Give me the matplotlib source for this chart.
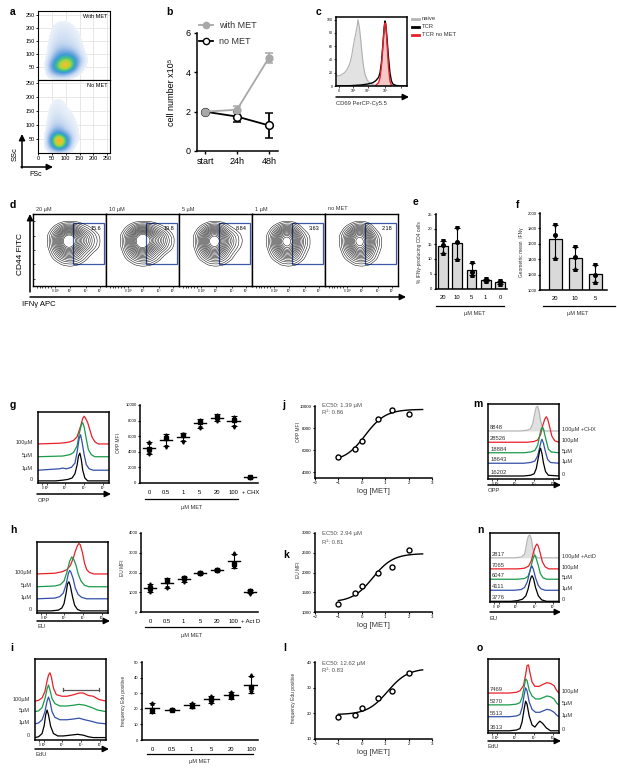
import numpy as np
import matplotlib
matplotlib.use('Agg')
import matplotlib.pyplot as plt
import matplotlib.tri as mtri
from matplotlib.colors import LinearSegmentedColormap
from matplotlib.patches import Rectangle

plt.rcParams['font.family'] = ['Liberation Sans', 'DejaVu Sans']

# ---------------- data ----------------
# a: FSc/SSc density (rows SSc 0..250 step 25, cols FSc 0..250 step 25)
a_with_met = np.array([
    [0, 0, 0, 0, 0, 0, 0, 0, 0, 0, 0],
    [0, 0, 1.5, 2.5, 2.5, 1, 0.3, 0, 0, 0, 0],
    [0, 0, 3, 6, 8, 5, 1, 0.2, 0, 0, 0],
    [0, 0, 2, 4.5, 6, 5, 2, 0.3, 0, 0, 0],
    [0, 0, 1, 2.5, 3, 2.5, 1, 0.2, 0, 0, 0],
    [0, 0, 0.8, 1.5, 1.5, 1.2, 0.6, 0.1, 0, 0, 0],
    [0, 0, 0.6, 1, 1, 0.8, 0.5, 0, 0, 0, 0],
    [0, 0, 0.4, 0.8, 0.8, 0.6, 0.3, 0, 0, 0, 0],
    [0, 0, 0.3, 0.6, 0.6, 0.4, 0.2, 0, 0, 0, 0],
    [0, 0, 0.1, 0.3, 0.3, 0.2, 0, 0, 0, 0, 0],
    [0, 0, 0, 0, 0, 0, 0, 0, 0, 0, 0]])
a_no_met = np.array([
    [0, 0, 0, 0, 0, 0, 0, 0, 0, 0, 0],
    [0, 0, 3, 7, 4, 0.5, 0, 0, 0, 0, 0],
    [0, 0, 4, 9, 5, 1, 0.3, 0, 0, 0, 0],
    [0, 0, 2, 3, 1.5, 0.8, 0.2, 0, 0, 0, 0],
    [0, 0, 1.2, 1.5, 1, 0.6, 0.2, 0, 0, 0, 0],
    [0, 0, 0.8, 1, 0.6, 0.4, 0.1, 0, 0, 0, 0],
    [0, 0, 0.6, 0.7, 0.4, 0.3, 0, 0, 0, 0, 0],
    [0, 0, 0.4, 0.5, 0.3, 0.1, 0, 0, 0, 0, 0],
    [0, 0, 0.2, 0.3, 0.2, 0, 0, 0, 0, 0, 0],
    [0, 0, 0.1, 0.1, 0, 0, 0, 0, 0, 0, 0],
    [0, 0, 0, 0, 0, 0, 0, 0, 0, 0, 0]])

# b: cell number x10^5
b_times = ['start', '24h', '48h']
b_with_met = [2.0, 2.1, 4.75]
b_with_met_err = [0.0, 0.18, 0.25]
b_no_met = [2.0, 1.75, 1.3]
b_no_met_err = [0.0, 0.25, 0.62]

# c: CD69 histograms (x as axis fraction, y in % of max)
c_naive_x = [0, .03, .06, .09, .12, .15, .18, .2, .22, .24, .26, .28, .3, .31, .33, .35, .37, .39, .41, .44, .47, .5, .55, .6, 1]
c_naive_y = [17, 15, 16, 18, 20, 24, 30, 36, 45, 58, 70, 80, 92, 100, 88, 68, 45, 28, 17, 9, 5, 3, 1, 0, 0]
c_tcr_x = [0, .2, .35, .45, .52, .56, .6, .62, .64, .66, .68, .69, .7, .72, .74, .76, .78, .8, .84, .9, 1]
c_tcr_y = [0, .5, 1.5, 3, 5, 8, 13, 20, 35, 62, 90, 98, 94, 70, 42, 20, 8, 3, 1, 0, 0]
c_red_x = [.56, .6, .62, .64, .66, .68, .69, .7, .71, .72, .74, .76, .78]
c_red_y = [1, 5, 12, 30, 60, 88, 95, 92, 80, 62, 28, 8, 1]

# d: CD44 vs IFNg contour plots
d_titles = ['20 \u00b5M', '10 \u00b5M', '5 \u00b5M', '1 \u00b5M', 'no MET']
d_gate_pct = [15.6, 19.8, 8.84, 3.63, 2.18]
d_base = np.array([
    [0, 0, 0, 0, 0, 0, 0, 0, 0],
    [0, 0, 0, 0, 0, 0, 0, 0, 0],
    [0, 0, 0, .3, .6, .3, 0, 0, 0],
    [0, 0, .6, 2.2, 3.2, 2, .4, 0, 0],
    [0, 0, 1.6, 5.5, 7.5, 4, .8, 0, 0],
    [0, .2, 2.2, 7.5, 9.5, 5, .9, 0, 0],
    [0, .1, 1.4, 5, 6.5, 3, .4, 0, 0],
    [0, 0, .2, 1, 1.5, .6, 0, 0, 0],
    [0, 0, 0, 0, 0, 0, 0, 0, 0]])
d_tail = np.array([
    [0, 0, 0, 0, 0, 0, 0, 0, 0],
    [0, 0, 0, 0, 0, 0, 0, 0, 0],
    [0, 0, 0, 0, 0, 0, 0, 0, 0],
    [0, 0, 0, 0, 0, .4, .4, 0, 0],
    [0, 0, 0, 0, .3, 1.2, 1.6, .8, 0],
    [0, 0, 0, 0, 1.2, 2.6, 3, 1.4, 0],
    [0, 0, 0, 0, .8, 2, 2, .8, 0],
    [0, 0, 0, 0, 0, .5, .4, 0, 0],
    [0, 0, 0, 0, 0, 0, 0, 0, 0]])

# e: % IFNg-producing CD4 cells
e_labels = ['20', '10', '5', '1', '0']
e_pts = [[16, 14.5, 12], [20.5, 15.5, 10], [8.8, 5.5, 4.5], [3.4, 3.0, 2.6], [2.5, 2.2, 1.8]]
# f: geometric mean IFNg
f_labels = ['20', '10', '5']
f_pts = [[1850, 1720, 1410], [1555, 1430, 1270], [1320, 1200, 1110]]

# g/h/i: dot plots
g_labels = ['0', '0.5', '1', '5', '20', '100', '+ CHX']
g_pts = [[5300, 4400, 3700], [6100, 5800, 4600], [6300, 6100, 5300], [8100, 7800, 7000],
         [8700, 8500, 7900], [8500, 8100, 7200], [820, 760, 700]]
h_labels = ['0', '0.5', '1', '5', '20', '100', '+ Act D']
h_pts = [[1400, 1200, 1000], [1650, 1550, 1200], [1750, 1700, 1500], [2020, 1980, 1940],
         [2200, 2150, 2100], [3000, 2450, 2300], [1100, 1050, 930]]
i_labels = ['0', '0.5', '1', '5', '20', '100']
i_pts = [[24, 19.5, 18], [20, 19.5, 19], [24, 22, 21], [28, 26, 24], [31, 28, 27], [41.5, 34, 31]]

# j/k/l: dose response (log uM)
log_met = [-1, -0.3, 0, 0.7, 1.3, 2]
j_vals = [5400, 6150, 6850, 8850, 9600, 9300]
k_vals = [1200, 1480, 1660, 2000, 2150, 2580]
l_vals = [18.7, 19.4, 22.2, 26, 28.7, 35.7]
j_fit = dict(bottom=5000, top=9700, ec50=1.39, r2=0.86)
k_fit = dict(bottom=1250, top=2480, ec50=2.94, r2=0.81)
l_fit = dict(bottom=19.5, top=37.5, ec50=12.62, r2=0.83)

# histogram panels: each curve = (x fraction list, height list), top curve first
hist_dose = ['100\u00b5M', '5\u00b5M', '1\u00b5M', '0']
g_curves = [
    ([0, .3, .4, .45, .5, .55, .6, .63, .65, .67, .7, .73, .76, .8, .85, 1],
     [0, .01, .02, .03, .05, .1, .25, .36, .39, .36, .3, .2, .1, .03, 0, 0]),
    ([0, .35, .45, .5, .55, .58, .61, .63, .65, .68, .71, .75, .8, 1],
     [0, .01, .03, .06, .15, .32, .45, .48, .42, .25, .1, .03, 0, 0]),
    ([0, .3, .35, .4, .47, .52, .55, .58, .6, .62, .65, .68, .72, .78, 1],
     [0, .02, .03, .02, .04, .1, .25, .45, .5, .4, .22, .08, .02, 0, 0]),
    ([0, .25, .35, .42, .48, .52, .55, .57, .59, .61, .63, .66, .7, 1],
     [0, 0, .01, .02, .04, .1, .22, .35, .39, .3, .15, .04, 0, 0])]
g_base = [0.55, 0.37, 0.18, 0.03]
h_curves = [
    ([0, .25, .35, .42, .47, .51, .54, .57, .59, .61, .64, .67, .7, .74, .8, 1],
     [0, .01, .03, .06, .12, .22, .32, .4, .43, .41, .3, .15, .06, .02, 0, 0]),
    ([0, .25, .33, .38, .42, .46, .49, .52, .55, .58, .62, .67, .73, 1],
     [0, .01, .03, .08, .2, .36, .42, .38, .3, .18, .08, .02, 0, 0]),
    ([0, .25, .32, .37, .41, .44, .46, .48, .51, .54, .58, .63, .7, 1],
     [0, .01, .03, .08, .2, .35, .4, .37, .28, .15, .06, .02, 0, 0]),
    ([0, .2, .3, .35, .38, .41, .43, .45, .47, .5, .53, .57, .62, 1],
     [0, 0, .01, .04, .1, .25, .38, .41, .35, .2, .08, .02, 0, 0])]
h_base = [0.55, 0.37, 0.2, 0.03]
i_curves = [
    ([0, .05, .1, .14, .17, .19, .21, .23, .26, .3, .38, .45, .55, .62, .68, .75, .82, .9, 1],
     [0, .01, .04, .12, .25, .32, .35, .3, .16, .08, .06, .06, .08, .1, .1, .07, .06, .02, 0]),
    ([0, .05, .1, .14, .17, .19, .21, .24, .28, .35, .45, .55, .62, .7, .8, .88, 1],
     [0, .01, .05, .16, .28, .33, .27, .16, .1, .07, .07, .08, .09, .08, .05, .02, 0]),
    ([0, .05, .1, .14, .17, .19, .21, .24, .28, .35, .45, .55, .62, .7, .8, .88, 1],
     [0, .01, .05, .15, .28, .33, .28, .15, .08, .05, .05, .06, .07, .05, .03, .01, 0]),
    ([0, .05, .1, .13, .15, .17, .19, .22, .26, .32, .4, .5, .6, .68, .75, .82, 1],
     [0, .01, .05, .15, .28, .34, .28, .14, .05, .02, .02, .03, .04, .03, .01, 0, 0])]
i_base = [0.48, 0.35, 0.2, 0.03]

m_labels = ['100\u00b5M +CHX', '100\u00b5M', '5\u00b5M', '1\u00b5M', '0']
m_mfi = [8848, 28526, 18884, 18643, 16202]
m_curves = [
    ([0, .45, .55, .6, .63, .66, .68, .7, .72, .74, .77, .8, 1],
     [0, 0, .01, .03, .1, .24, .32, .33, .26, .14, .04, 0, 0]),
    ([0, .55, .65, .7, .74, .77, .8, .82, .84, .87, .9, .94, 1],
     [0, 0, .01, .03, .1, .22, .31, .34, .31, .2, .08, .02, 0]),
    ([0, .5, .6, .66, .7, .73, .75, .77, .79, .82, .85, .89, 1],
     [0, 0, .01, .03, .1, .24, .32, .34, .28, .16, .05, .01, 0]),
    ([0, .5, .6, .66, .7, .73, .75, .76, .78, .81, .84, .88, 1],
     [0, 0, .01, .03, .1, .22, .3, .32, .27, .15, .05, .01, 0]),
    ([0, .5, .6, .65, .68, .71, .73, .74, .76, .78, .81, .85, 1],
     [0, 0, .01, .03, .1, .25, .35, .37, .3, .18, .06, .01, 0])]
m_base = [0.64, 0.49, 0.35, 0.21, 0.04]

n_labels = ['100\u00b5M +ActD', '100\u00b5M', '5\u00b5M', '1\u00b5M', '0']
n_mfi = [2817, 7065, 6047, 4111, 3776]
n_curves = [
    ([0, .35, .45, .5, .52, .54, .56, .58, .6, .62, .65, .69, 1],
     [0, 0, .01, .05, .14, .26, .32, .33, .27, .14, .04, 0, 0]),
    ([0, .4, .5, .56, .6, .63, .66, .68, .7, .73, .76, .8, .85, 1],
     [0, 0, .01, .04, .12, .24, .33, .36, .33, .22, .1, .03, 0, 0]),
    ([0, .4, .5, .55, .58, .61, .63, .65, .67, .7, .73, .77, .82, 1],
     [0, 0, .01, .04, .12, .25, .32, .35, .3, .2, .08, .02, 0, 0]),
    ([0, .35, .45, .5, .54, .57, .59, .61, .63, .66, .7, .74, .8, 1],
     [0, 0, .01, .04, .12, .24, .32, .35, .3, .18, .07, .02, 0, 0]),
    ([0, .3, .4, .47, .52, .55, .58, .6, .61, .63, .66, .7, .75, .82, 1],
     [0, 0, .01, .03, .08, .17, .3, .36, .37, .33, .2, .08, .02, 0, 0])]
n_base = [0.64, 0.48, 0.33, 0.17, 0.01]

o_labels = ['100\u00b5M', '5\u00b5M', '1\u00b5M', '0']
o_mfi = [7469, 5270, 5513, 3613]
o_curves = [
    ([0, .3, .4, .45, .5, .53, .55, .57, .59, .62, .66, .72, .78, .83, .88, .93, .97, 1],
     [0, 0, .01, .03, .1, .25, .37, .38, .28, .15, .09, .09, .12, .14, .13, .1, .03, 0]),
    ([0, .3, .4, .45, .48, .51, .53, .55, .58, .62, .67, .73, .78, .83, .88, .93, .97, 1],
     [0, 0, .01, .03, .1, .25, .35, .33, .2, .12, .08, .08, .1, .12, .11, .08, .02, 0]),
    ([0, .3, .4, .45, .48, .51, .53, .55, .58, .62, .67, .73, .78, .83, .88, .93, .97, 1],
     [0, 0, .01, .03, .12, .3, .39, .35, .2, .1, .06, .06, .08, .1, .09, .06, .02, 0]),
    ([0, .3, .4, .45, .48, .51, .53, .55, .58, .62, .66, .7, .73, .77, .82, .88, 1],
     [0, 0, .01, .03, .12, .3, .4, .36, .2, .08, .05, .1, .13, .1, .04, 0, 0])]
o_base = [0.54, 0.38, 0.22, 0.03]

four_colors = ['#e8202a', '#1a9a4a', '#3450a8', 'black']
five_colors = ['#b5b5b5', '#e8202a', '#1a9a4a', '#3450a8', 'black']

# ---------------- figure ----------------
W, H = 617, 768
fig = plt.figure(figsize=(W / 100, H / 100), dpi=100)


def px_axes(l, t, r, b):
    return fig.add_axes([l / W, 1 - b / H, (r - l) / W, (b - t) / H])


ov = fig.add_axes([0, 0, 1, 1], zorder=20)
ov.set_xlim(0, W)
ov.set_ylim(H, 0)
ov.axis('off')


def arrow(x1, y1, x2, y2):
    ov.annotate('', xy=(x2, y2), xytext=(x1, y1),
                arrowprops=dict(arrowstyle='-|>', lw=1.1, color='black',
                                mutation_scale=9, shrinkA=0, shrinkB=0))


for lab, x, y in [('a', 10, 12), ('b', 166, 12), ('c', 316, 12), ('d', 10, 205),
                  ('e', 413, 202), ('f', 516, 205), ('g', 10, 405), ('j', 282, 405),
                  ('m', 473, 404), ('h', 10, 530), ('k', 283, 555), ('n', 477, 530),
                  ('i', 10, 648), ('l', 283, 648), ('o', 477, 648)]:
    ov.text(x, y, lab, fontsize=7.5, fontweight='bold', va='center', ha='left')

# ---- a ----
a_cmap = LinearSegmentedColormap.from_list('flow', [
    (0.0, '#edf2fa'), (0.12, '#c2d6f0'), (0.26, '#7fade2'), (0.4, '#3d9ad6'),
    (0.54, '#3cbf8f'), (0.68, '#a8d540'), (0.82, '#f5bf2a'), (1.0, '#e8441c')])
a_cmap.set_under((1, 1, 1, 0))
for k, (grid, tag, top, bot) in enumerate([(a_with_met, 'With MET', 11, 80),
                                          (a_no_met, 'No MET', 80, 153)]):
    ax = px_axes(38, top, 110, bot)
    for v in [50, 100, 150, 200, 250]:
        ax.axhline(v, color='#e4e4e4', lw=0.6, zorder=0)
        ax.axvline(v, color='#e4e4e4', lw=0.6, zorder=0)
    ax.imshow(grid, origin='lower', extent=(-12.5, 262.5, -12.5, 262.5), cmap=a_cmap,
              vmin=0.3, vmax=7.8, interpolation='bicubic', aspect='auto', zorder=1)
    ax.set_xlim(0, 260)
    ax.set_ylim(0, 265 if k == 0 else 262)
    ax.set_yticks([50, 100, 150, 200, 250])
    ax.set_xticks([0, 50, 100, 150, 200, 250])
    ax.tick_params(labelsize=4, length=1.5, width=0.6, pad=1)
    if k == 0:
        ax.set_xticklabels([])
    for s in ax.spines.values():
        s.set_linewidth(0.8)
    ax.text(0.96, 0.92, tag, transform=ax.transAxes, fontsize=4, ha='right', va='center')
arrow(22, 168, 22, 134)
arrow(21, 167, 53, 167)
ov.text(15, 154, 'SSc', fontsize=5.5, rotation=90, va='center', ha='center')
ov.text(29, 174, 'FSc', fontsize=5, va='center', ha='left')

# ---- b ----
ax = px_axes(197, 33, 278, 151)
xb = np.arange(len(b_times))
ax.errorbar(xb, b_no_met, yerr=b_no_met_err, color='black', lw=1.3, capsize=3,
            capthick=1.1, marker='o', ms=5.5, mfc='white', mec='black', mew=1.1)
ax.errorbar(xb, b_with_met, yerr=b_with_met_err, color='#a8a8a8', lw=1.3, capsize=3,
            capthick=1.1, marker='o', ms=5, mfc='#a8a8a8', mec='#a8a8a8')
ax.set_xlim(-0.25, 2.28)
ax.set_ylim(0, 6)
ax.set_yticks([0, 2, 4, 6])
ax.set_xticks(xb)
ax.set_xticklabels(b_times)
ax.tick_params(labelsize=6.5, length=2.5, width=1, pad=2)
for s in ['top', 'right']:
    ax.spines[s].set_visible(False)
for s in ['left', 'bottom']:
    ax.spines[s].set_linewidth(1.1)
ov.text(172, 92, 'cell number x10\u2075', fontsize=6.5, rotation=90, va='center', ha='center')
ov.plot([199, 213], [25, 25], color='#a8a8a8', lw=1.3)
ov.plot([206], [25], marker='o', ms=4.5, color='#a8a8a8')
ov.text(219, 25, 'with MET', fontsize=6.5, va='center', color='#333333')
ov.plot([199, 213], [41, 41], color='black', lw=1.3)
ov.plot([206], [41], marker='o', ms=4.5, mfc='white', mec='black', mew=1)
ov.text(219, 41, 'no MET', fontsize=6.5, va='center', color='#333333')

# ---- c ----
ax = px_axes(336, 17, 407, 86)
ax.fill_between(c_naive_x, 0, c_naive_y, color='#e2e2e2', lw=0)
ax.plot(c_naive_x, c_naive_y, color='#b0b0b0', lw=0.8)
ax.fill_between(c_red_x, 0, c_red_y, color='#f6c8c8', lw=0)
ax.plot(c_tcr_x, c_tcr_y, color='black', lw=1.0)
ax.plot(c_red_x, c_red_y, color='#e8202a', lw=1.0)
ax.set_xlim(0, 1)
ax.set_ylim(0, 104)
ax.set_yticks([0, 20, 40, 60, 80, 100])
ax.set_xticks([0.04, 0.24, 0.45, 0.69, 0.92])
ax.set_xticklabels(['0', '10\u00b3', '10\u2074', '10\u2075', ''])
ax.tick_params(labelsize=2.5, length=1.2, width=0.5, pad=1)
for s in ax.spines.values():
    s.set_linewidth(1.1)
arrow(336, 97, 409, 97)
ov.text(336, 104, 'CD69 PerCP-Cy5.5', fontsize=4.2, va='center', ha='left', color='#333333')
for y, lab, col in [(19, 'naive', '#b5b5b5'), (27, 'TCR', 'black'), (35, 'TCR no MET', '#e8202a')]:
    ov.plot([412, 419], [y, y], color=col, lw=2)
    ov.text(422, y, lab, fontsize=4.2, va='center', ha='left', color='#333333')

# ---- d ----
gx = np.linspace(0, 1, 9)
GX, GY = np.meshgrid(gx, gx)
d_tri = mtri.Triangulation(GX.ravel(), GY.ravel())
d_ref = mtri.UniformTriRefiner(d_tri)
d_levels = [0.9, 1.4, 2.0, 2.6, 3.2, 3.8, 4.4, 5.0, 5.6, 6.2, 6.8, 7.4, 8.0, 8.6, 9.2]
box_w = 73
for k, (title, pct) in enumerate(zip(d_titles, d_gate_pct)):
    l = 33 + k * box_w
    ax = px_axes(l, 214, l + box_w, 286)
    z = d_base + d_tail * pct / 15.0
    tf, zf = d_ref.refine_field(z.ravel(), subdiv=3)
    ax.tricontour(tf, zf, levels=d_levels, colors='black', linewidths=0.35)
    ax.add_patch(Rectangle((0.55, 0.31), 0.42, 0.56, fill=False, ec='#3c59a8', lw=0.9))
    ax.text(0.93, 0.8, '{:g}'.format(pct), fontsize=4, ha='right', va='center')
    ax.set_xlim(0, 1)
    ax.set_ylim(0, 1)
    ax.set_xticks([0.3, 0.5, 0.72, 0.92])
    ax.set_xticklabels(['0 10\u00b3', '10\u00b3', '10\u2074', '10\u2075'])
    ax.set_xticks(np.linspace(0.05, 0.25, 6), minor=True)
    ax.tick_params(axis='x', which='both', labelsize=2.2, length=1.2, width=0.5, pad=1)
    if k == 0:
        ax.set_yticks([0.1, 0.3, 0.5, 0.7, 0.9])
        ax.set_yticklabels(['', '', '', '', ''])
        ax.tick_params(axis='y', direction='in', length=1.2, width=0.5)
    else:
        ax.set_yticks([])
    for s in ax.spines.values():
        s.set_linewidth(1.0)
    ov.text(l + 3, 209, title, fontsize=4, va='center', ha='left', color='#333333')
arrow(30, 292, 30, 214)
arrow(30, 297, 406, 297)
ov.text(20, 254, 'CD44 FITC', fontsize=6, rotation=90, va='center', ha='center')
ov.text(22, 305, 'IFN\u03b3 APC', fontsize=5.5, va='center', ha='left')


def bar_panel(ax, pts, labels, width):
    xs = np.arange(len(pts))
    means = [np.mean(p) for p in pts]
    lo = [np.mean(p) - min(p) for p in pts]
    hi = [max(p) - np.mean(p) for p in pts]
    ax.bar(xs, means, width=width, color='#d9d9d9', edgecolor='black', lw=0.9, zorder=1)
    ax.errorbar(xs, means, yerr=[lo, hi], fmt='none', ecolor='black', lw=0.8,
                capsize=2, capthick=0.8, zorder=2)
    for i, p in enumerate(pts):
        for v, mk in zip(p, ['v', 'o', '^']):
            ax.plot(i, v, marker=mk, ms=2.6, color='black', ls='none', zorder=3)
    ax.set_xticks(xs)
    ax.set_xticklabels(labels)
    for s in ['top', 'right']:
        ax.spines[s].set_visible(False)
    for s in ['left', 'bottom']:
        ax.spines[s].set_linewidth(1.1)
    ax.tick_params(axis='y', labelsize=3, length=1.5, width=0.8, pad=1)
    ax.tick_params(axis='x', labelsize=4.2, length=0, pad=4)


# ---- e ----
ax = px_axes(436, 214, 507, 289)
bar_panel(ax, e_pts, e_labels, 0.7)
ax.set_xlim(-0.5, 4.5)
ax.set_ylim(0, 25)
ax.set_yticks([0, 5, 10, 15, 20, 25])
ov.text(420, 252, '% IFN\u03b3-producing CD4 cells', fontsize=3.5, rotation=90,
        va='center', ha='center', color='#333333')
ov.plot([436, 504], [306, 306], color='black', lw=0.9)
ov.text(475, 314, '\u00b5M MET', fontsize=4, ha='center', va='center', color='#333333')

# ---- f ----
ax = px_axes(540, 213, 607, 290)
bar_panel(ax, f_pts, f_labels, 0.65)
ax.set_xlim(-0.75, 2.6)
ax.set_ylim(1000, 2000)
ax.set_yticks([1000, 1200, 1400, 1600, 1800, 2000])
ov.text(522, 252, 'Geometric mean  IFN\u03b3', fontsize=3.5, rotation=90,
        va='center', ha='center', color='#333333')
ov.plot([543, 615], [306, 306], color='black', lw=0.9)
ov.text(578, 314, '\u00b5M MET', fontsize=4, ha='center', va='center', color='#333333')


# ---- histogram helper ----
def hist_panel(ax, curves, bases, colors, fill_first=False):
    for k, ((xs, hs), b, col) in enumerate(zip(curves, bases, colors)):
        ys = b + np.asarray(hs)
        if fill_first and k == 0:
            ax.fill_between(xs, b, ys, color='#e0e0e0', lw=0)
        ax.plot(xs, ys, color=col, lw=0.9)
    ax.set_xlim(0, 1)
    ax.set_ylim(0, 1)
    ax.set_yticks([])
    ax.set_xticks([0.06, 0.13, 0.38, 0.65, 0.92])
    ax.set_xticklabels(['0', '10\u00b2', '10\u00b3', '10\u2074', '10\u2075'])
    ax.tick_params(axis='x', labelsize=2.2, length=1.2, width=0.5, pad=1)
    for s in ax.spines.values():
        s.set_linewidth(1.1)


def left_labels(ax, bases):
    for lab, b in zip(hist_dose, bases):
        ax.text(-0.07, b + 0.02, lab, transform=ax.transAxes, fontsize=4,
                ha='right', va='center', color='#333333')


# ---- g hist ----
ax = px_axes(38, 412, 109, 483)
hist_panel(ax, g_curves, g_base, four_colors)
left_labels(ax, g_base)
arrow(37, 494, 111, 494)
ov.text(38, 501, 'OPP', fontsize=4.2, va='center', ha='left', color='#333333')

# ---- h hist ----
ax = px_axes(37, 542, 108, 613)
hist_panel(ax, h_curves, h_base, four_colors)
left_labels(ax, h_base)
arrow(37, 621, 110, 621)
ov.text(37, 627, 'EU', fontsize=4.2, va='center', ha='left', color='#333333')

# ---- i hist ----
ax = px_axes(35, 659, 106, 740)
hist_panel(ax, i_curves, i_base, four_colors)
left_labels(ax, i_base)
ax.plot([0.39, 0.9], [0.62, 0.62], color='#555555', lw=0.9)
ax.plot([0.39, 0.39], [0.6, 0.64], color='#555555', lw=0.9)
ax.plot([0.9, 0.9], [0.6, 0.64], color='#555555', lw=0.9)
arrow(35, 749, 109, 749)
ov.text(35, 755, 'EdU', fontsize=4.2, va='center', ha='left', color='#333333')


def right_panel(ax, labels, mfi, bases):
    for lab, num, b in zip(labels, mfi, bases):
        ax.text(1.04, b + 0.02, lab, transform=ax.transAxes, fontsize=4,
                ha='left', va='center', color='#333333')
        ax.text(0.03, b + 0.015, str(num), transform=ax.transAxes, fontsize=4.2,
                ha='left', va='bottom', color='#333333')


# ---- m ----
ax = px_axes(488, 404, 559, 479)
hist_panel(ax, m_curves, m_base, five_colors, fill_first=True)
right_panel(ax, m_labels, m_mfi, m_base)
arrow(488, 485, 561, 485)
ov.text(488, 491, 'OPP', fontsize=4.2, va='center', ha='left', color='#333333')

# ---- n ----
ax = px_axes(490, 533, 559, 602)
hist_panel(ax, n_curves, n_base, five_colors, fill_first=True)
right_panel(ax, n_labels, n_mfi, n_base)
arrow(490, 612, 561, 612)
ov.text(490, 618, 'EU', fontsize=4.2, va='center', ha='left', color='#333333')

# ---- o ----
ax = px_axes(488, 659, 559, 733)
hist_panel(ax, o_curves, o_base, four_colors)
right_panel(ax, o_labels, o_mfi, o_base)
arrow(488, 741, 561, 741)
ov.text(488, 747, 'EdU', fontsize=4.2, va='center', ha='left', color='#333333')


# ---- dot plots g/h/i ----
def dot_panel(ax, pts, labels):
    for i, p in enumerate(pts):
        p = np.asarray(p, float)
        m, sd = p.mean(), p.std(ddof=1)
        ax.plot([i - 0.36, i + 0.36], [m, m], color='black', lw=1.0)
        ax.errorbar([i], [m], yerr=[sd], fmt='none', ecolor='black', lw=0.8,
                    capsize=2.2, capthick=0.8)
        for v, mk in zip(p, ['^', 's', 'v']):
            ax.plot(i, v, marker=mk, ms=2.4, color='black', ls='none')
    ax.set_xticks(np.arange(len(pts)))
    ax.set_xticklabels(labels)
    for s in ['top', 'right']:
        ax.spines[s].set_visible(False)
    for s in ['left', 'bottom']:
        ax.spines[s].set_linewidth(1.1)
    ax.tick_params(axis='y', labelsize=3, length=1.5, width=0.8, pad=1)
    ax.tick_params(axis='x', labelsize=4.2, length=0, pad=5)


ax = px_axes(140, 405, 258, 483)
dot_panel(ax, g_pts, g_labels)
ax.set_xlim(-0.55, 6.45)
ax.set_ylim(0, 10000)
ax.set_yticks([0, 2000, 4000, 6000, 8000, 10000])
ov.text(118, 443, 'OPP MFI', fontsize=3.5, rotation=90, va='center', ha='center', color='#333333')
ov.plot([145, 238], [499, 499], color='black', lw=0.9)
ov.text(192, 507, '\u00b5M MET', fontsize=4, ha='center', va='center', color='#333333')

ax = px_axes(141, 533, 258, 612)
dot_panel(ax, h_pts, h_labels)
ax.set_xlim(-0.55, 6.45)
ax.set_ylim(0, 4000)
ax.set_yticks([0, 1000, 2000, 3000, 4000])
ov.text(123, 568, 'EU MFI', fontsize=3.5, rotation=90, va='center', ha='center', color='#333333')
ov.plot([145, 240], [627, 627], color='black', lw=0.9)
ov.text(192, 636, '\u00b5M MET', fontsize=4, ha='center', va='center', color='#333333')

ax = px_axes(142, 662, 258, 740)
dot_panel(ax, i_pts, i_labels)
ax.set_xlim(-0.5, 5.35)
ax.set_ylim(0, 50)
ax.set_yticks([0, 10, 20, 30, 40, 50])
ov.text(123, 701, 'frequency Edu positive', fontsize=3.5, rotation=90, va='center',
        ha='center', color='#333333')
ov.plot([147, 253], [754, 754], color='black', lw=0.9)
ov.text(200, 762, '\u00b5M MET', fontsize=4, ha='center', va='center', color='#333333')


# ---- dose response j/k/l ----
def dose_panel(ax, vals, fit):
    xf = np.linspace(-1, 2.6, 120)
    yf = fit['bottom'] + (fit['top'] - fit['bottom']) / (1 + 10 ** (np.log10(fit['ec50']) - xf))
    ax.plot(xf, yf, color='black', lw=1.0)
    ax.plot(log_met, vals, ls='none', marker='o', ms=3.6, mfc='white', mec='black', mew=1.0)
    ax.set_xlim(-2, 3)
    ax.set_xticks([-2, -1, 0, 1, 2, 3])
    for s in ['top', 'right']:
        ax.spines[s].set_visible(False)
    for s in ['left', 'bottom']:
        ax.spines[s].set_linewidth(1.1)
    ax.tick_params(labelsize=3.2, length=1.5, width=0.8, pad=1)
    ax.set_xlabel('log [MET]', fontsize=5.5, labelpad=1.5, color='#333333')


def fit_text(x, y, fit):
    ov.text(x, y, 'EC50: {:.2f} \u00b5M'.format(fit['ec50']), fontsize=4.3, va='center',
            ha='left', color='#555555')
    ov.text(x, y + 8, 'R\u00b2: {:.2f}'.format(fit['r2']), fontsize=4.3, va='center',
            ha='left', color='#555555')


ax = px_axes(315, 406, 432, 478)
dose_panel(ax, j_vals, j_fit)
ax.set_ylim(3500, 10000)
ax.set_yticks([4000, 6000, 8000, 10000])
ov.text(298, 432, 'OPP MFI', fontsize=3.5, rotation=90, va='center', ha='center', color='#333333')
fit_text(322, 405, j_fit)

ax = px_axes(315, 533, 432, 612)
dose_panel(ax, k_vals, k_fit)
ax.set_ylim(1000, 3000)
ax.set_yticks([1000, 1500, 2000, 2500, 3000])
ov.text(299, 570, 'EU MFI', fontsize=3.5, rotation=90, va='center', ha='center', color='#333333')
fit_text(322, 534, k_fit)

ax = px_axes(315, 662, 432, 739)
dose_panel(ax, l_vals, l_fit)
ax.set_ylim(10, 40)
ax.set_yticks([10, 20, 30, 40])
ov.text(293, 698, 'frequency Edu positive', fontsize=3.5, rotation=90, va='center',
        ha='center', color='#333333')
fit_text(322, 663, l_fit)

fig.savefig('out.png', dpi=100)
